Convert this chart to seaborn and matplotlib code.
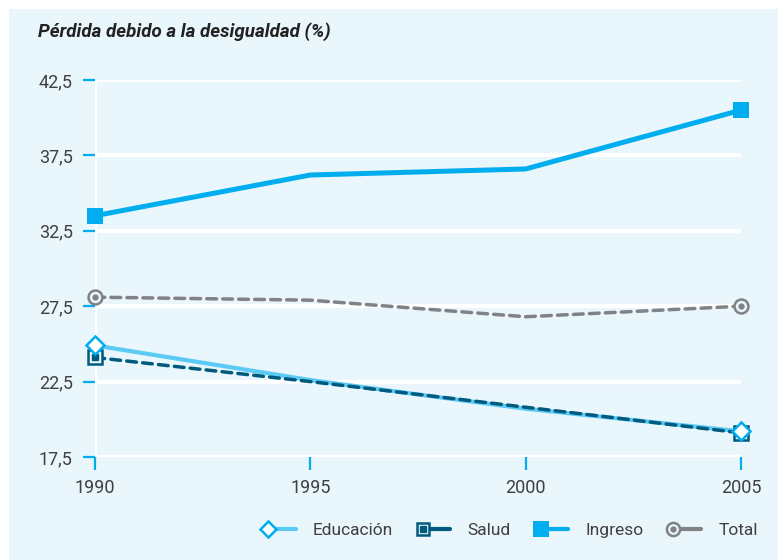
import seaborn as sns
import matplotlib.pyplot as plt
import pandas as pd
from matplotlib.lines import Line2D
from matplotlib.legend_handler import HandlerLine2D
from matplotlib.patches import Rectangle

# data
years = [1990, 1995, 2000, 2005]
educacion = [24.9, 22.6, 20.7, 19.2]
salud = [24.1, 22.5, 20.8, 19.1]
ingreso = [33.5, 36.2, 36.6, 40.5]
total = [28.1, 27.9, 26.8, 27.5]
series_names = ["Educación", "Salud", "Ingreso", "Total"]
yticks = [17.5, 22.5, 27.5, 32.5, 37.5, 42.5]
ytick_labels = ["17,5", "22,5", "27,5", "32,5", "37,5", "42,5"]

df = pd.DataFrame({
    "year": years * 4,
    "value": educacion + salud + ingreso + total,
    "serie": [n for n in series_names for _ in years],
})

bg = "#E9F6FC"
blue = "#00AEEF"
light = "#5BCBF5"
dark = "#005A7E"
grey = "#808285"
text_c = "#404040"

sns.set_style("white")
plt.rcParams["font.family"] = ["Roboto", "DejaVu Sans"]

fig = plt.figure(figsize=(7.78, 5.60), dpi=100, facecolor="white")
fig.patches.append(Rectangle((9 / 778, 0), 1, 1 - 9 / 560, transform=fig.transFigure,
                             facecolor=bg, edgecolor="none", zorder=-10))
ax = fig.add_axes([95 / 778, 1 - 457 / 560, (741 - 95) / 778, (457 - 80) / 560])
ax.set_facecolor(bg)

dash = (0, (2.8, 1.8))
styles = {
    "Educación": dict(color=light, lw=3.0, ls="-"),
    "Salud": dict(color=dark, lw=2.5, ls=dash),
    "Ingreso": dict(color=blue, lw=3.6, ls="-"),
    "Total": dict(color=grey, lw=2.5, ls=dash),
}
markers = {
    "Educación": dict(marker="D", ms=9, mfc="white", mec=blue, mew=1.8),
    "Salud": dict(marker="s", ms=9.5, mfc=bg, mec=dark, mew=1.8),
    "Ingreso": dict(marker="s", ms=11.5, mfc=blue, mec=blue, mew=0),
    "Total": dict(marker="o", ms=10, mfc=bg, mec=grey, mew=1.8),
}

for name in ["Total", "Ingreso", "Educación", "Salud"]:
    sub = df[df["serie"] == name]
    st = styles[name]
    sns.lineplot(data=sub, x="year", y="value", ax=ax, color=st["color"],
                 linewidth=st["lw"], linestyle=st["ls"], zorder=3,
                 dash_capstyle="round", solid_capstyle="butt")

# end markers (Salud square sits under the Educación diamond)
for name in ["Total", "Ingreso", "Salud", "Educación"]:
    sub = df[df["serie"] == name]
    ends = sub.iloc[[0, -1]]
    ax.plot(ends["year"], ends["value"], ls="none", clip_on=False, zorder=5,
            **markers[name])
    if name == "Salud":
        ax.plot(ends["year"], ends["value"], ls="none", marker="s", ms=4.5,
                color=dark, clip_on=False, zorder=5)
    if name == "Total":
        ax.plot(ends["year"], ends["value"], ls="none", marker="o", ms=3.5,
                color=grey, clip_on=False, zorder=5)

ax.set_xlim(1990, 2005)
ax.set_ylim(17.5, 42.5)
ax.set_xticks(years)
ax.set_xticklabels([str(y) for y in years])
ax.set_yticks(yticks)
ax.set_yticklabels(ytick_labels)
ax.set_xlabel("")
ax.set_ylabel("")
ax.grid(axis="y", color="white", lw=3)
ax.grid(axis="x", visible=False)
ax.axvline(1990, color="white", lw=3, zorder=1)
for s in ax.spines.values():
    s.set_visible(False)
ax.tick_params(axis="y", left=True, color=blue, length=9, width=1.6, pad=7,
               labelsize=13, labelcolor=text_c)
ax.tick_params(axis="x", bottom=True, color=blue, length=9, width=1.6, pad=7,
               labelsize=13, labelcolor=text_c, direction="out")

fig.text(38 / 778, 1 - 32 / 560, "Pérdida debido a la desigualdad (%)",
         fontsize=13.5, fontweight="bold", fontstyle="italic", color="#222222",
         va="center", ha="left")


class LeftMarker(HandlerLine2D):
    def create_artists(self, legend, orig, xdescent, ydescent, width, height,
                       fontsize, trans):
        y = height / 2 - ydescent
        line = Line2D([width * 0.35, width * 0.95], [y, y], color=orig.get_color(),
                      lw=orig.get_linewidth(), solid_capstyle="round")
        mk = Line2D([width * 0.15], [y], ls="none", marker=orig.get_marker(),
                    ms=orig.get_markersize(), mfc=orig.get_markerfacecolor(),
                    mec=orig.get_markeredgecolor(), mew=orig.get_markeredgewidth())
        arts = [line, mk]
        inner = getattr(orig, "inner", None)
        if inner:
            arts.append(Line2D([width * 0.15], [y], ls="none", marker=inner[0],
                               ms=inner[1], color=inner[2]))
        for a in arts:
            a.set_transform(trans)
        return arts


handles = []
for name in series_names:
    mk = markers[name]
    h = Line2D([], [], color=styles[name]["color"], lw=3,
               marker=mk["marker"], ms=mk["ms"] * 0.95, mfc=mk["mfc"], mec=mk["mec"],
               mew=mk["mew"])
    if name == "Salud":
        h.inner = ("s", 4, dark)
    if name == "Total":
        h.inner = ("o", 3.5, grey)
    handles.append(h)

leg = fig.legend(handles, series_names, loc="center right",
                 bbox_to_anchor=(758 / 778, 1 - 530 / 560), ncol=4, frameon=False,
                 handler_map={Line2D: LeftMarker()}, handlelength=2.0,
                 columnspacing=1.4, handletextpad=0.9, fontsize=12.5,
                 borderaxespad=0, borderpad=0)
for t in leg.get_texts():
    t.set_color(text_c)

fig.savefig("out.png", dpi=100, facecolor="white")
